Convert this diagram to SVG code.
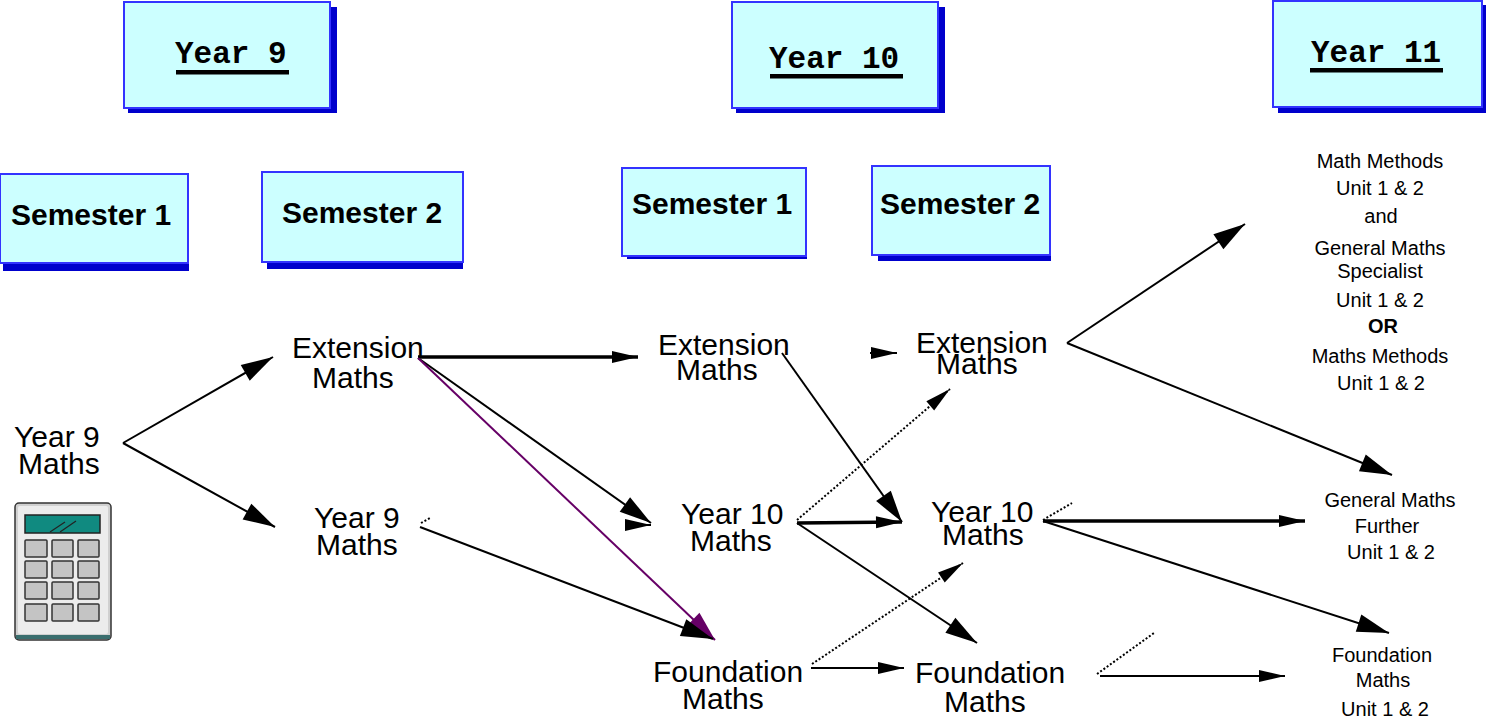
<svg xmlns="http://www.w3.org/2000/svg" width="1486" height="723" viewBox="0 0 1486 723">
<style>
.box{fill:#ccffff;stroke:#3333ff;stroke-width:2}
.shadow{fill:#0000cc}
.hdr{font-family:"Liberation Mono","Courier New",monospace;font-weight:bold;font-size:31px;fill:#000}
.sem{font-family:"Liberation Sans",Arial,sans-serif;font-weight:bold;font-size:30px;fill:#000}
.lbl{font-family:"Liberation Sans",Arial,sans-serif;font-size:30px;fill:#000}
.sm{font-family:"Liberation Sans",Arial,sans-serif;font-size:20px;fill:#000;text-anchor:middle}
.ul{fill:#000}
.ln{stroke:#000;stroke-width:2;fill:none}
.thick{stroke-width:3.5}
.dot{stroke-dasharray:2 2}
.purple{stroke:#660066}
.btn{fill:#c4c4c4;stroke:#333;stroke-width:1.5}
</style>
<defs>
<marker id="big" markerUnits="userSpaceOnUse" markerWidth="32" markerHeight="18" refX="32" refY="9" orient="auto" overflow="visible"><path d="M0,0 L32,9 L0,18 Z" fill="#000"/></marker>
<marker id="med" markerUnits="userSpaceOnUse" markerWidth="26" markerHeight="12" refX="26" refY="6" orient="auto" overflow="visible"><path d="M0,0 L26,6 L0,12 Z" fill="#000"/></marker>
<marker id="bigp" markerUnits="userSpaceOnUse" markerWidth="30" markerHeight="18" refX="30" refY="9" orient="auto" overflow="visible"><path d="M0,0 L30,9 L0,18 Z" fill="#660066"/></marker>
</defs>

<!-- Header boxes -->
<g id="year9">
<rect class="shadow" x="128" y="7" width="209" height="106"/>
<rect class="box" x="124" y="2" width="206" height="106"/>
<text class="hdr" x="175" y="63">Year 9</text>
<rect class="ul" x="176" y="70" width="113" height="4.5"/>
</g>
<g id="year10">
<rect class="shadow" x="736" y="7" width="209" height="106"/>
<rect class="box" x="732" y="2" width="206" height="106"/>
<text class="hdr" x="769" y="68">Year 10</text>
<rect class="ul" x="770" y="74" width="133" height="4.5"/>
</g>
<g id="year11">
<rect class="shadow" x="1278" y="5" width="208" height="108"/>
<rect class="box" x="1273" y="1" width="209" height="106"/>
<text class="hdr" x="1311" y="62">Year 11</text>
<rect class="ul" x="1310" y="68" width="133" height="4.5"/>
</g>

<!-- Semester boxes -->
<g id="y9s1">
<rect class="shadow" x="3" y="180" width="186" height="91"/>
<rect class="box" x="0" y="174" width="188" height="89"/>
<text class="sem" x="11" y="225">Semester 1</text>
</g>
<g id="y9s2">
<rect class="shadow" x="267" y="178" width="196" height="91"/>
<rect class="box" x="262" y="172" width="201" height="90"/>
<text class="sem" x="282" y="223">Semester 2</text>
</g>
<g id="y10s1">
<rect class="shadow" x="627" y="172" width="180" height="87"/>
<rect class="box" x="622" y="168" width="184" height="88"/>
<text class="sem" x="632" y="214">Semester 1</text>
</g>
<g id="y10s2">
<rect class="shadow" x="878" y="171" width="173" height="90"/>
<rect class="box" x="872" y="166" width="178" height="89"/>
<text class="sem" x="880" y="214">Semester 2</text>
</g>

<!-- Calculator -->
<g id="calculator">
<rect x="15" y="503" width="96" height="137" rx="4" fill="#d0d0d0" stroke="#333" stroke-width="1.5"/>
<rect x="18" y="506" width="90" height="128" rx="2" fill="#ececec"/>
<rect x="16" y="635" width="94" height="4" fill="#3a6e6e"/>
<rect x="25" y="515" width="75" height="18" fill="#108a80" stroke="#222" stroke-width="1.5"/>
<line x1="50" y1="532" x2="65" y2="522" stroke="#222" stroke-width="1.2"/>
<line x1="60" y1="532" x2="76" y2="521" stroke="#222" stroke-width="1.2"/>
<rect class="btn" x="25" y="540" width="22" height="17" rx="1"/>
<rect class="btn" x="52" y="540" width="21" height="17" rx="1"/>
<rect class="btn" x="78" y="540" width="21" height="17" rx="1"/>
<rect class="btn" x="25" y="561" width="22" height="17" rx="1"/>
<rect class="btn" x="52" y="561" width="21" height="17" rx="1"/>
<rect class="btn" x="78" y="561" width="21" height="17" rx="1"/>
<rect class="btn" x="25" y="582" width="22" height="17" rx="1"/>
<rect class="btn" x="52" y="582" width="21" height="17" rx="1"/>
<rect class="btn" x="78" y="582" width="21" height="17" rx="1"/>
<rect class="btn" x="25" y="604" width="22" height="17" rx="1"/>
<rect class="btn" x="52" y="604" width="21" height="17" rx="1"/>
<rect class="btn" x="78" y="604" width="21" height="17" rx="1"/>
</g>

<!-- Connectors -->
<g id="connectors">
<line class="ln" x1="123" y1="443" x2="273" y2="357" marker-end="url(#big)"/>
<line class="ln" x1="123" y1="443" x2="275" y2="527" marker-end="url(#big)"/>
<line class="ln thick" x1="418" y1="357" x2="638" y2="357" marker-end="url(#med)"/>
<line class="ln" x1="418" y1="358" x2="651" y2="523" marker-end="url(#big)"/>
<line class="ln" x1="625" y1="525" x2="651" y2="525" marker-end="url(#med)"/>
<line class="ln purple" x1="418" y1="358" x2="715" y2="640" marker-end="url(#bigp)"/>
<line class="ln" x1="420" y1="527" x2="713" y2="639" marker-end="url(#big)"/>
<line class="ln dot" x1="421" y1="523" x2="430" y2="518"/>
<line class="ln" x1="782" y1="353" x2="902" y2="522" marker-end="url(#big)"/>
<line class="ln thick" x1="797" y1="523" x2="902" y2="522" marker-end="url(#med)"/>
<line class="ln dot" x1="797" y1="520" x2="950" y2="389" marker-end="url(#med)"/>
<line class="ln" x1="797" y1="523" x2="977" y2="643" marker-end="url(#big)"/>
<line class="ln dot" x1="812" y1="664" x2="963" y2="563" marker-end="url(#med)"/>
<line class="ln" x1="811" y1="668" x2="904" y2="668" marker-end="url(#med)"/>
<line class="ln" x1="870" y1="353" x2="897" y2="353" marker-end="url(#med)"/>
<line class="ln" x1="1067" y1="343" x2="1245" y2="224" marker-end="url(#big)"/>
<line class="ln" x1="1067" y1="343" x2="1392" y2="475" marker-end="url(#big)"/>
<line class="ln thick" x1="1043" y1="521" x2="1305" y2="521" marker-end="url(#med)"/>
<line class="ln" x1="1043" y1="521" x2="1389" y2="633" marker-end="url(#big)"/>
<line class="ln dot" x1="1043" y1="520" x2="1072" y2="503"/>
<line class="ln" x1="1100" y1="676" x2="1285" y2="676" marker-end="url(#med)"/>
<line class="ln dot" x1="1097" y1="674" x2="1154" y2="633"/>
</g>

<!-- Course nodes -->
<g id="y9maths">
<text class="lbl" x="14" y="447">Year 9</text>
<text class="lbl" x="18" y="474">Maths</text>
</g>
<g id="y9s2-extension">
<text class="lbl" x="292" y="358">Extension</text>
<text class="lbl" x="312" y="388">Maths</text>
</g>
<g id="y9s2-year9">
<text class="lbl" x="314" y="528">Year 9</text>
<text class="lbl" x="316" y="555">Maths</text>
</g>
<g id="y10s1-extension">
<text class="lbl" x="658" y="355">Extension</text>
<text class="lbl" x="676" y="380">Maths</text>
</g>
<g id="y10s1-year10">
<text class="lbl" x="681" y="524">Year 10</text>
<text class="lbl" x="690" y="551">Maths</text>
</g>
<g id="y10s1-foundation">
<text class="lbl" x="653" y="682">Foundation</text>
<text class="lbl" x="682" y="709">Maths</text>
</g>
<g id="y10s2-extension">
<text class="lbl" x="916" y="353">Extension</text>
<text class="lbl" x="936" y="374">Maths</text>
</g>
<g id="y10s2-year10">
<text class="lbl" x="931" y="522">Year 10</text>
<text class="lbl" x="942" y="545">Maths</text>
</g>
<g id="y10s2-foundation">
<text class="lbl" x="915" y="683">Foundation</text>
<text class="lbl" x="944" y="712">Maths</text>
</g>
<g id="y11-methods">
<text class="sm" x="1380" y="168">Math Methods</text>
<text class="sm" x="1380" y="195">Unit 1 &amp; 2</text>
<text class="sm" x="1381" y="223">and</text>
<text class="sm" x="1380" y="255">General Maths</text>
<text class="sm" x="1380" y="278">Specialist</text>
<text class="sm" x="1380" y="307">Unit 1 &amp; 2</text>
<text class="sm" x="1383" y="333" font-weight="bold">OR</text>
<text class="sm" x="1380" y="363">Maths Methods</text>
<text class="sm" x="1381" y="390">Unit 1 &amp; 2</text>
</g>
<g id="y11-further">
<text class="sm" x="1390" y="507">General Maths</text>
<text class="sm" x="1387" y="533">Further</text>
<text class="sm" x="1391" y="559">Unit 1 &amp; 2</text>
</g>
<g id="y11-foundation">
<text class="sm" x="1382" y="662">Foundation</text>
<text class="sm" x="1383" y="687">Maths</text>
<text class="sm" x="1385" y="716">Unit 1 &amp; 2</text>
</g>
</svg>
